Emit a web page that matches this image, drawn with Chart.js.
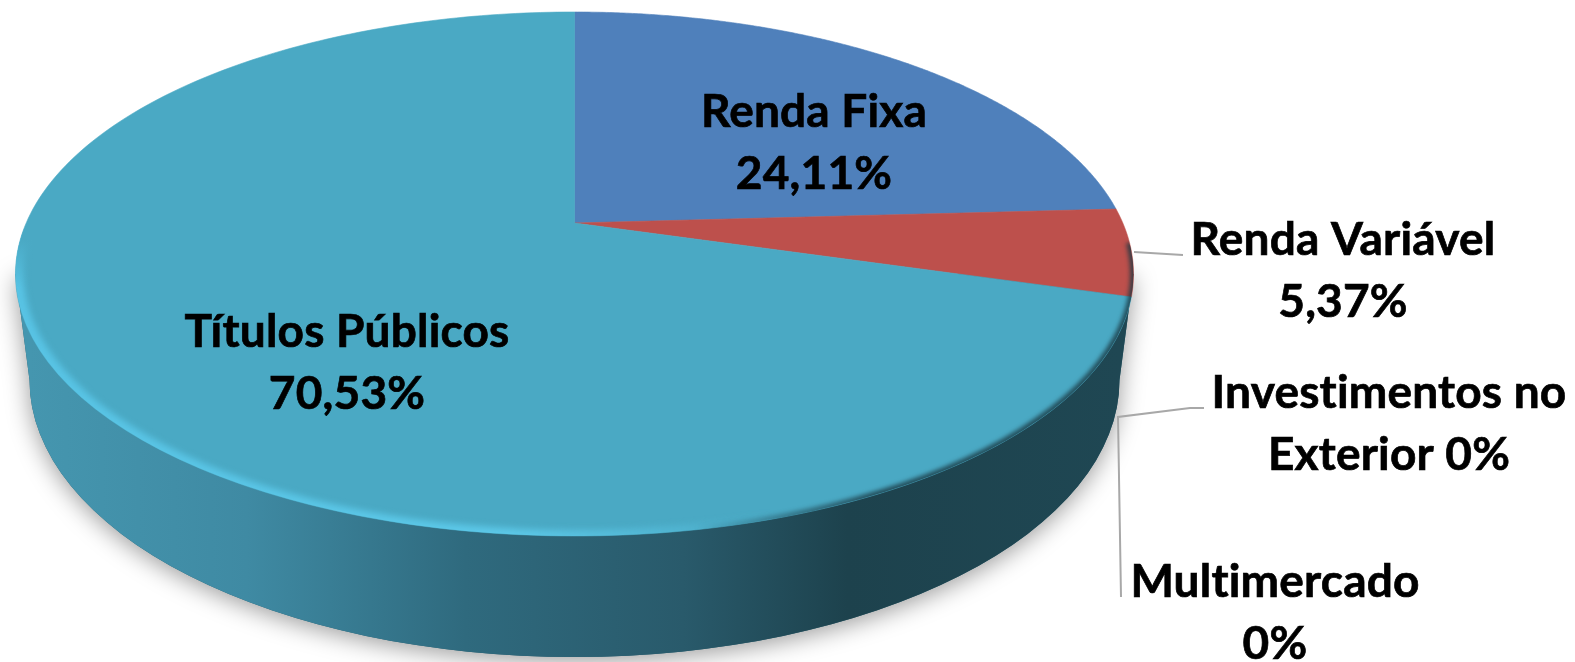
<!DOCTYPE html>
<html>
<head>
<meta charset="utf-8">
<style>
  html, body { margin: 0; padding: 0; background: #fff; overflow: hidden; }
  canvas { display: block; }
</style>
<script src="https://cdn.jsdelivr.net/npm/chart.js@4"></script>
</head>
<body>
<canvas id="pie-graph" width="1575" height="662"></canvas>
<script>
var categories = ['Renda Fixa', 'Renda Variável', 'Investimentos no Exterior', 'Multimercado', 'Títulos Públicos'];
var seriesValues = [24.11, 5.37, 0, 0, 70.53];
var sliceColors = ['#4f80bb', '#bd504c', '#7f9fc0', '#8064a2', '#4aa9c4'];

// where the text goes, [center x, first baseline], same order as categories
var labelSpots = [[814, 127], [1343, 255], [1389, 408], [1275, 597], [347, 347]];
var labelFont = 'bold 46px Lato';
var lineGap = 62;

// top face of the disc, seen in perspective
var cx = 574.5, topY = 274, topRx = 559, topRy = 262, apexY = 223;
var k = (topY - apexY) / topRy;
var faceA = topRx * Math.sqrt(1 - k * k);
var faceB = 211 * (1 + k);
// bottom edge of the wall
var botY = 380, botRx = 545, botRy = 277;

function project(theta) {
    var w = 1 + k * Math.cos(theta);
    return {
        x: cx + faceA * Math.sin(theta) / w,
        y: apexY - faceB * Math.cos(theta) / w
    };
}

function wallPath(ctx) {
    ctx.beginPath();
    ctx.moveTo(cx - topRx, topY);
    ctx.lineTo(cx - botRx, botY);
    ctx.ellipse(cx, botY, botRx, botRy, 0, Math.PI, 0, true);
    ctx.lineTo(cx + topRx, topY);
    ctx.closePath();
}

function drawWall(ctx) {
    ctx.save();
    ctx.shadowColor = 'rgba(0, 0, 0, 0.4)';
    ctx.shadowBlur = 24;
    ctx.shadowOffsetY = 4;
    ctx.fillStyle = '#2a6070';
    wallPath(ctx);
    ctx.fill();
    ctx.restore();

    var wall = ctx.createLinearGradient(cx - botRx, 0, cx + botRx, 0);
    wall.addColorStop(0, '#4596af');
    wall.addColorStop(0.2, '#3f8aa3');
    wall.addColorStop(0.4, '#2f6a7e');
    wall.addColorStop(0.6, '#295a6b');
    wall.addColorStop(0.75, '#1d424d');
    wall.addColorStop(1, '#1f4753');
    ctx.fillStyle = wall;
    wallPath(ctx);
    ctx.fill();
}

function drawSlice(ctx, arc) {
    var start = arc.startAngle + Math.PI / 2;
    var end = arc.endAngle + Math.PI / 2;
    var steps = 240;
    ctx.beginPath();
    ctx.moveTo(cx, apexY);
    for (var i = 0; i <= steps; i++) {
        var p = project(start + (end - start) * i / steps);
        ctx.lineTo(p.x, p.y);
    }
    ctx.closePath();
    ctx.fillStyle = arc.options.backgroundColor;
    ctx.strokeStyle = arc.options.backgroundColor;
    ctx.lineWidth = 0.6;
    ctx.fill();
    ctx.stroke();
}

function drawRim(ctx) {
    ctx.save();
    ctx.beginPath();
    ctx.ellipse(cx, topY, topRx, topRy, 0, 0, Math.PI * 2);
    ctx.clip();

    // light bevel on the lower left, wider at the side than at the front
    var light = ctx.createLinearGradient(cx - topRx, 0, cx + 200, 0);
    light.addColorStop(0, '#58c3e4');
    light.addColorStop(0.65, '#5cc8e8');
    light.addColorStop(1, 'rgba(92, 200, 232, 0)');
    ctx.save();
    ctx.beginPath();
    ctx.rect(0, topY - 40, cx + 200, 420);
    ctx.clip();
    ctx.filter = 'blur(3px)';
    ctx.fillStyle = light;
    ctx.beginPath();
    ctx.ellipse(cx, topY, topRx + 10, topRy + 10, 0, 0, Math.PI * 2);
    ctx.ellipse(cx, topY - 1, topRx - 8, topRy - 5, 0, 0, Math.PI * 2);
    ctx.fill('evenodd');
    ctx.restore();

    // the bevel fades out going up the left side
    var fade = ctx.createLinearGradient(0, topY - 34, 0, topY + 14);
    fade.addColorStop(0, sliceColors[4]);
    fade.addColorStop(1, 'rgba(74, 169, 196, 0)');
    ctx.fillStyle = fade;
    ctx.fillRect(0, topY - 45, 100, 60);

    // dark soft edge on the right
    var dark = ctx.createLinearGradient(cx + 120, 0, cx + 300, 0);
    dark.addColorStop(0, 'rgba(25, 55, 65, 0)');
    dark.addColorStop(1, 'rgba(25, 55, 65, 0.8)');
    ctx.filter = 'blur(2px)';
    ctx.strokeStyle = dark;
    ctx.lineWidth = 7;
    ctx.beginPath();
    ctx.ellipse(cx, topY, topRx, topRy, 0, Math.PI * 0.45, -0.12, true);
    ctx.stroke();
    ctx.restore();
}

function drawLeaders(ctx) {
    ctx.strokeStyle = '#a8a8a8';
    ctx.lineWidth = 2;
    ctx.beginPath();
    ctx.moveTo(1134, 252);
    ctx.lineTo(1183, 255);
    ctx.moveTo(1204, 408);
    ctx.lineTo(1190, 408);
    ctx.lineTo(1118, 417);
    ctx.lineTo(1121, 597);
    ctx.stroke();
}

function labelLines(i) {
    var pct = String(seriesValues[i]).replace('.', ',') + '%';
    var name = categories[i];
    var cut = name.indexOf(' no ');
    if (cut > 0) {
        return [name.slice(0, cut + 3), name.slice(cut + 4) + ' ' + pct];
    }
    return [name, pct];
}

function drawLabels(ctx) {
    ctx.fillStyle = '#000';
    ctx.strokeStyle = '#000';
    ctx.lineWidth = 0.7;
    ctx.font = labelFont;
    ctx.letterSpacing = '0.2px'; // also keeps the "ti" pair apart
    ctx.textAlign = 'center';
    ctx.textBaseline = 'alphabetic';
    categories.forEach(function(name, i) {
        labelLines(i).forEach(function(line, n) {
            var y = labelSpots[i][1] + n * lineGap;
            ctx.fillText(line, labelSpots[i][0], y);
            ctx.strokeText(line, labelSpots[i][0], y);
        });
    });
}

var tiltPlugin = {
    id: 'tilt',
    beforeDatasetsDraw: function(chart) {
        drawWall(chart.ctx);
    },
    // chart.js works out the slice angles, they are only drawn tilted here
    beforeDatasetDraw: function(chart, args) {
        args.meta.data.forEach(function(arc) {
            if (arc.endAngle > arc.startAngle) {
                drawSlice(chart.ctx, arc);
            }
        });
        return false;
    },
    afterDatasetsDraw: function(chart) {
        drawRim(chart.ctx);
        drawLeaders(chart.ctx);
        drawLabels(chart.ctx);
    }
};

var pieChart = new Chart(document.getElementById('pie-graph').getContext('2d'), {
    type: 'pie',
    data: {
        labels: categories,
        datasets: [{
            data: seriesValues,
            backgroundColor: sliceColors,
            borderWidth: 0
        }]
    },
    options: {
        responsive: false,
        animation: false,
        plugins: {
            legend: { display: false },
            tooltip: { enabled: false }
        }
    },
    plugins: [tiltPlugin]
});
</script>
</body>
</html>
